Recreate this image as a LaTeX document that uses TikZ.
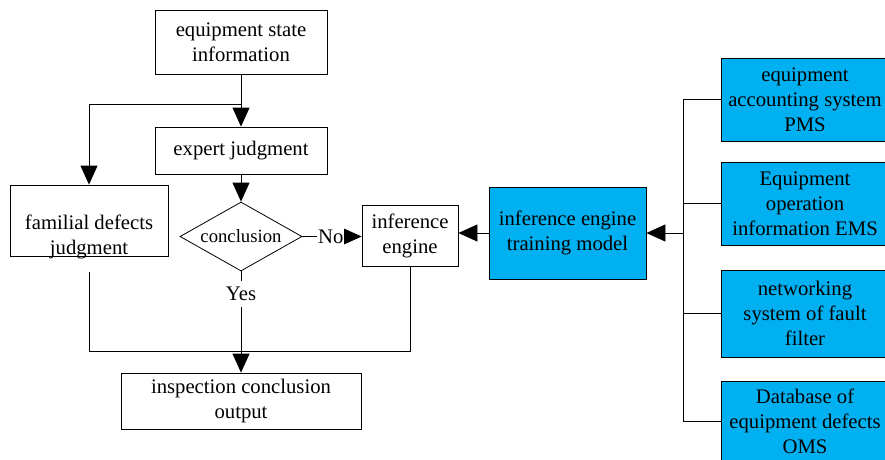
\documentclass[tikz,border=0pt]{standalone}
\usepackage{fontspec}
\setmainfont{Liberation Serif}
\usetikzlibrary{arrows.meta,shapes.geometric}
\definecolor{srcblue}{HTML}{00B0F0}
\begin{document}
\begin{tikzpicture}[x=1pt, y=-1pt, line width=0.8pt,
        >={Triangle[length=19pt, width=17pt]},
        every node/.style={font=\fontsize{20.7}{25}\selectfont, align=center, inner sep=0pt},
        box/.style={draw},
        bluebox/.style={draw, fill=srcblue},
        tag/.style={fill=white, inner xsep=1pt, inner ysep=6pt}]
        \useasboundingbox (0,0) rectangle (885,459);
        \node[box, minimum width=172pt, minimum height=64pt] (state) at (241, 42) {equipment state\\information};
        \node[box, minimum width=172pt, minimum height=47pt] (expert) at (241, 150.5) {expert judgment};
        \node[box, minimum width=158pt, minimum height=71pt] (fambox) at (89, 220.5) {};
        \node[minimum width=158pt, minimum height=70pt] (fam) at (89, 237) {familial defects\\judgment};
        \node[draw, diamond, aspect=1.77, minimum width=122pt, minimum height=69pt,
              font=\fontsize{18.7}{22}\selectfont] (dia) at (241, 236.5) {conclusion};
        \node[box, minimum width=96pt, minimum height=61pt] (inf) at (410, 235.5) {inference\\engine};
        \node[bluebox, minimum width=157pt, minimum height=92pt] (train) at (567.5, 233) {inference engine\\training model};
        \node[box, minimum width=240pt, minimum height=56pt] (out) at (241, 401) {inspection conclusion\\output};
        \node[bluebox, minimum width=168pt, minimum height=83pt] (src1) at (805, 99.5) {equipment\\accounting system\\PMS};
        \node[bluebox, minimum width=168pt, minimum height=83pt] (src2) at (805, 203.5) {Equipment\\operation\\information EMS};
        \node[bluebox, minimum width=168pt, minimum height=87pt] (src3) at (805, 313.5) {networking\\system of fault\\filter};
        \node[bluebox, minimum width=168pt, minimum height=80pt] (src4) at (805, 421) {Database of\\equipment defects\\OMS};
        \coordinate (split) at (241, 104);
        \coordinate (merge) at (241, 351);
        \coordinate (bus) at (683, 233);
        \draw[->] (state.south) -- (expert.north);
        \draw[->] (split) -| (fambox.north);
        \draw[->] (expert.south) -- (dia.north);
        \draw[->] (dia.east) -- node[tag, pos=0.48] (no) {No} (dia.east -| inf.west);
        \draw[->] (dia.south) -- node[tag, pos=0.22] (yes) {Yes} (out.north);
        \draw (fam.south) |- (merge);
        \draw (inf.south) |- (merge);
        \draw[->] (train.west) -- (train.west -| inf.east);
        \draw[->] (bus) -- (train.east);
        \draw (src1.west) -| (bus);
        \draw (src2.west) -| (bus);
        \draw (src3.west) -| (bus);
        \draw (src4.west) -| (bus);
      \end{tikzpicture}
\end{document}
